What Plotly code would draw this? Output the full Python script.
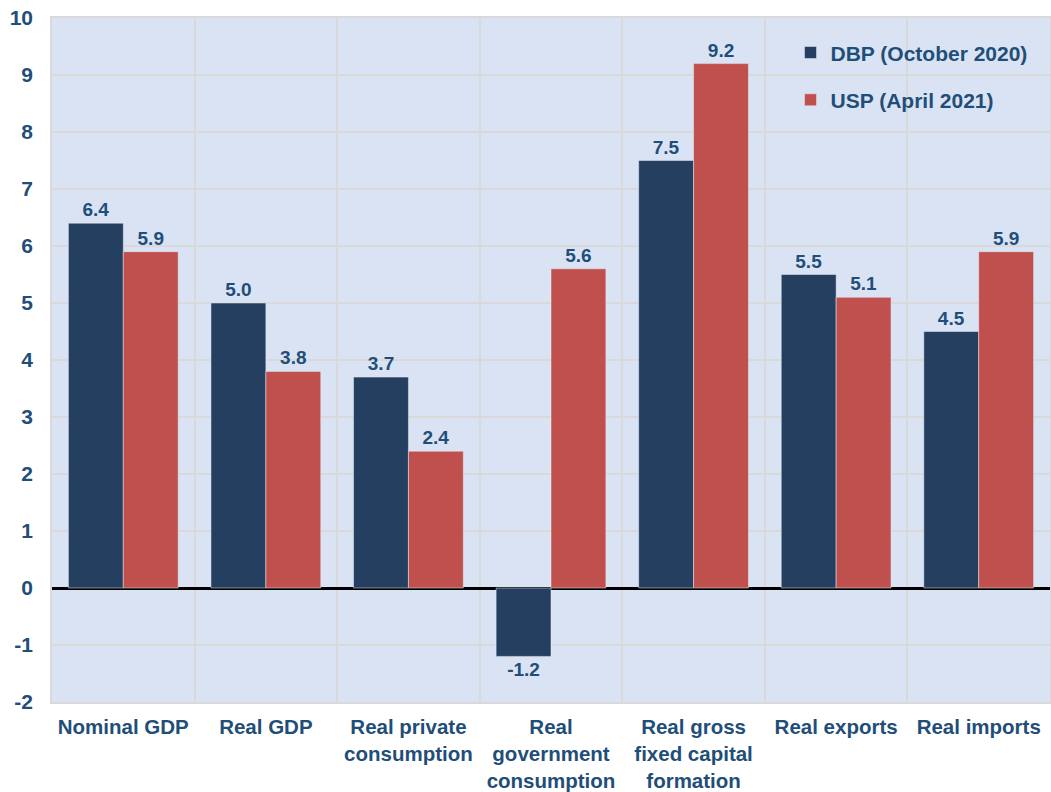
import plotly.graph_objects as go

categories = ["Nominal GDP", "Real GDP", "Real private<br>consumption",
              "Real<br>government<br>consumption", "Real gross<br>fixed capital<br>formation",
              "Real exports", "Real imports"]
dbp_values = [6.4, 5.0, 3.7, -1.2, 7.5, 5.5, 4.5]
usp_values = [5.9, 3.8, 2.4, 5.6, 9.2, 5.1, 5.9]
series_names = ["DBP (October 2020)", "USP (April 2021)"]
y_ticks = list(range(-2, 11))

TXT = "#1f4e79"
FONT = "Liberation Sans, Arial, sans-serif"

fig = go.Figure()
for name, vals, col, grp in [(series_names[0], dbp_values, "#243f60", "a"),
                             (series_names[1], usp_values, "#c0504d", "b")]:
    fig.add_trace(go.Bar(
        x=categories, y=vals, name=name, marker_color=col, legendgroup=grp,
        text=[f"{v:.1f}" for v in vals], textposition="outside",
        textfont=dict(family=FONT, size=19, color=TXT, weight="bold"),
        cliponaxis=False,
    ))

fig.update_layout(
    width=1051, height=792,
    margin=dict(l=52, r=1, t=18, b=90),
    paper_bgcolor="white", plot_bgcolor="#dae3f3",
    barmode="group", bargap=0.23, bargroupgap=0,
    font=dict(family=FONT, color=TXT, size=21, weight="bold"),
    legend=dict(x=0.74, y=0.979, xanchor="left", yanchor="top",
                bgcolor="rgba(0,0,0,0)", font=dict(size=21, color=TXT, weight="bold"),
                tracegroupgap=17, itemwidth=30),
    showlegend=True,
)
fig.update_xaxes(
    type="category", tickson="boundaries", showgrid=True, gridcolor="#d9d9d9", gridwidth=1.5,
    ticks="", tickfont=dict(size=20.5, color=TXT, weight="bold"), automargin=False,
    ticklabelstandoff=6,
    showline=True, linecolor="#d9d9d9", linewidth=1.5, mirror=True,
)
fig.update_yaxes(
    range=[-2, 10], tickvals=y_ticks, ticktext=[str(t) for t in y_ticks],
    showgrid=True, gridcolor="#d9d9d9", gridwidth=1.5,
    zeroline=True, zerolinecolor="black", zerolinewidth=3,
    tickfont=dict(size=21, color=TXT, weight="bold"), ticks="", ticklabelstandoff=13,
    automargin=False,
    showline=True, linecolor="#d9d9d9", linewidth=1.5, mirror=True,
)

fig.write_html("out.html", config={"displayModeBar": False},
               post_script="document.body.style.margin='0';")
